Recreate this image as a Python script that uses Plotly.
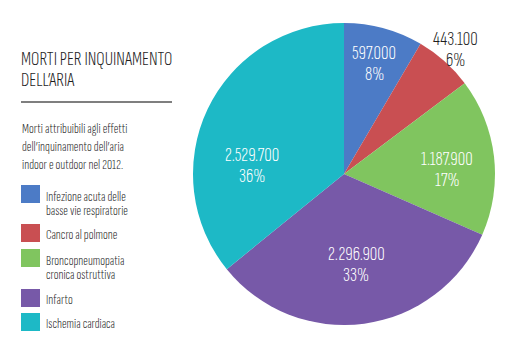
import math
import plotly.graph_objects as go

# Deaths attributable to indoor and outdoor air pollution, 2012
causes = [
    "Infezione acuta delle<br>basse vie respiratorie",
    "Cancro al polmone",
    "Broncopneumopatia<br>cronica ostruttiva",
    "Infarto",
    "Ischemia cardiaca",
]
deaths = [597000, 443100, 1187900, 2296900, 2529700]
percent_labels = ["8%", "6%", "17%", "33%", "36%"]
colors = ["#4C7BC6", "#C94F52", "#80C55F", "#7759A8", "#1DB9C6"]
label_colors = ["white", "#1E1E1E", "white", "white", "white"]
# value-label placement: distance from the centre (fraction of the radius)
# and angular nudge away from the slice bisector (degrees, clockwise)
label_radius = [0.76, 1.11, 0.68, 0.60, 0.61]
label_nudge = [0, 0, 4, 0, -20]

title_lines = ["MORTI PER INQUINAMENTO", "DELL’ARIA"]
subtitle_lines = [
    "Morti attribuibili agli effetti",
    "dell’inquinamento dell’aria",
    "indoor e outdoor nel 2012.",
]

W, H = 517, 343
FONT = "Sofia Sans Extra Condensed, Yanone Kaffeesatz, sans-serif"
INK = "#1E1E1E"
PIE_X = [193 / W, 495 / W]
PIE_Y = [18 / H, 320 / H]


def fmt_it(n):
    return f"{n:,}".replace(",", ".")


fig = go.Figure(
    go.Pie(
        labels=causes,
        values=deaths,
        textinfo="none",
        marker=dict(colors=colors, line=dict(width=0)),
        sort=False,
        direction="clockwise",
        rotation=0,
        showlegend=False,
        hoverinfo="label+value+percent",
        domain=dict(x=PIE_X, y=PIE_Y),
    )
)

annotations = []


def text_line(txt, x, y, size, color=INK, anchor="left"):
    annotations.append(dict(
        text=txt, x=x, y=y, xref="x", yref="y", xanchor=anchor, yanchor="middle",
        align=anchor, showarrow=False,
        font=dict(family=FONT, size=size, weight=300, color=color),
    ))


# Value labels placed around each slice's bisector
cx = (PIE_X[0] + PIE_X[1]) / 2 * W
cy = H - (PIE_Y[0] + PIE_Y[1]) / 2 * H
radius = min((PIE_X[1] - PIE_X[0]) * W, (PIE_Y[1] - PIE_Y[0]) * H) / 2
total = sum(deaths)
start = 0.0
for v, pct, col, rf, nudge in zip(deaths, percent_labels, label_colors,
                                  label_radius, label_nudge):
    mid = (start + v / 2) / total * 2 * math.pi + math.radians(nudge)
    start += v
    lx = cx + rf * radius * math.sin(mid)
    ly = cy - rf * radius * math.cos(mid)
    text_line(fmt_it(v), lx, ly - 10.5, 21, col, "center")
    text_line(pct, lx, ly + 10.5, 21, col, "center")

for i, t in enumerate(title_lines):
    text_line(t, 19, 58 + i * 21, 21)
for i, t in enumerate(subtitle_lines):
    text_line(t, 20, 128 + i * 18, 14.5)

shapes = [
    dict(type="line", x0=21, x1=172, y0=102, y1=102, xref="x", yref="y",
         line=dict(color="#555555", width=1.5)),
]

# Legend: colour swatches with their descriptions
swatch_tops = [185, 224, 249, 289, 313]
for top, name, col in zip(swatch_tops, causes, colors):
    shapes.append(dict(type="rect", x0=21, x1=40, y0=top, y1=top + 18,
                       xref="x", yref="y", fillcolor=col, line=dict(width=0)))
    parts = name.split("<br>")
    if len(parts) == 1:
        text_line(parts[0], 44, top + 10, 14.5)
    else:
        for j, p in enumerate(parts):
            text_line(p, 44, top + 11 + j * 14, 14.5)

fig.update_layout(
    width=W, height=H,
    margin=dict(l=0, r=0, t=0, b=0),
    paper_bgcolor="white", plot_bgcolor="rgba(0,0,0,0)",
    xaxis=dict(range=[0, W], visible=False, fixedrange=True),
    yaxis=dict(range=[H, 0], visible=False, fixedrange=True),
    shapes=shapes,
    annotations=annotations,
)

fig.write_html("out.html")
